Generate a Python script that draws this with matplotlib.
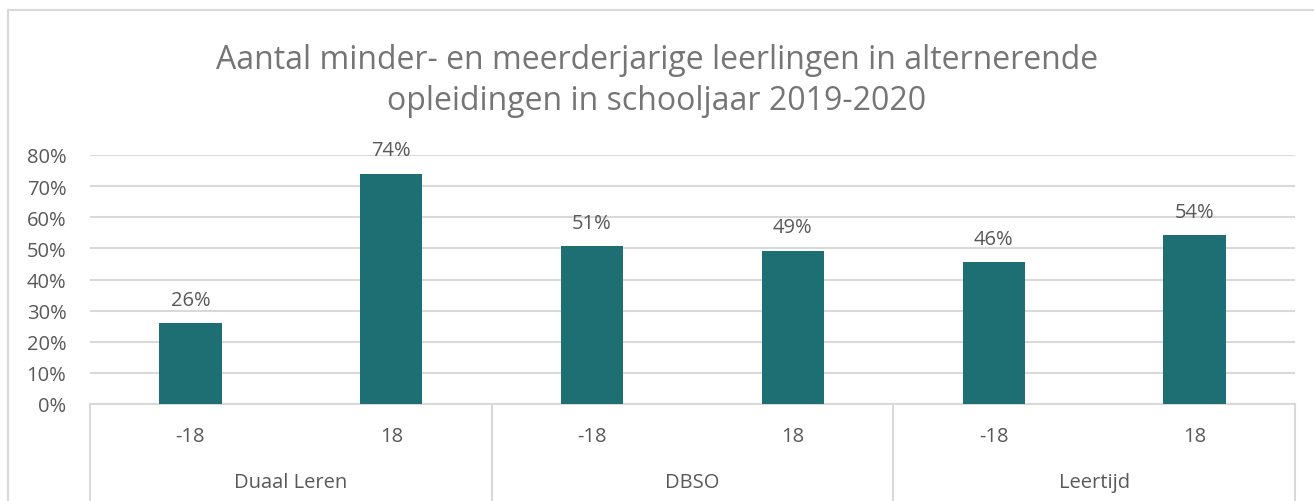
import matplotlib.pyplot as plt
from matplotlib.lines import Line2D
from matplotlib.ticker import FuncFormatter

# data
groups = ["Duaal Leren", "DBSO", "Leertijd"]
ages = ["-18", "18", "-18", "18", "-18", "18"]
shares = [0.26, 0.74, 0.507, 0.493, 0.457, 0.543]

TEAL = "#1d6f73"
TEXT = "#595959"
GRID = "#d9d9d9"
FONT = "Open Sans"
FS = 14.5

W, H = 1314, 502
fig = plt.figure(figsize=(W / 100, H / 100), dpi=100)
fig.patch.set_facecolor("white")

# plot area in pixel coords
left, right, top, bottom = 90, 1295, 156, 405
ax = fig.add_axes([left / W, 1 - bottom / H, (right - left) / W, (bottom - top) / H])

x = list(range(len(shares)))
ax.bar(x, shares, width=0.31, color=TEAL, zorder=3)
for xi, v in zip(x, shares):
    ax.annotate(f"{v * 100:.0f}%", xy=(xi, v), xytext=(0, 9.5), textcoords="offset points",
                ha="center", va="bottom", fontsize=FS, color=TEXT, family=FONT)

ax.set_xlim(-0.5, len(shares) - 0.5)
ax.set_ylim(0, 0.8)
ax.set_yticks([i / 10 for i in range(9)])
ax.yaxis.set_major_formatter(FuncFormatter(lambda v, _: f"{v * 100:.0f}%"))
ax.tick_params(axis="y", length=0, pad=17, labelsize=FS, labelcolor=TEXT)
for lab in ax.get_yticklabels():
    lab.set_family(FONT)
ax.set_xticks([])
ax.grid(axis="y", color=GRID, linewidth=1.5, zorder=0)
for s in ["top", "right", "left"]:
    ax.spines[s].set_visible(False)
ax.spines["bottom"].set_color(GRID)
ax.spines["bottom"].set_linewidth(1.5)

# two-level category axis
depth = (H - bottom) / (bottom - top)
trans = ax.get_xaxis_transform()
for sep in [-0.5, 1.5, 3.5, 5.5]:
    ax.add_line(Line2D([sep, sep], [0, -depth], transform=trans, color=GRID,
                       linewidth=1.5, clip_on=False))
for xi, lab in zip(x, ages):
    ax.text(xi, -(437 - bottom) / (bottom - top), lab, transform=trans, ha="center",
            va="center", fontsize=FS, color=TEXT, family=FONT)
for gi, g in enumerate(groups):
    ax.text(2 * gi + 0.5, -(483 - bottom) / (bottom - top), g, transform=trans,
            ha="center", va="center", fontsize=FS, color=TEXT, family=FONT)

# title
fig.text(0.5, 1 - 81 / H, "Aantal minder- en meerderjarige leerlingen in alternerende\n"
         "opleidingen in schooljaar 2019-2020", ha="center", va="center",
         fontsize=23, color="#757575", family=FONT, linespacing=1.3)

# chart border
fig.add_artist(Line2D([8 / W, 8 / W], [0, 1 - 11 / H], color=GRID, linewidth=1.5))
fig.add_artist(Line2D([8 / W, 1], [1 - 11 / H, 1 - 11 / H], color=GRID, linewidth=1.5))

fig.savefig("out.png", dpi=100)
